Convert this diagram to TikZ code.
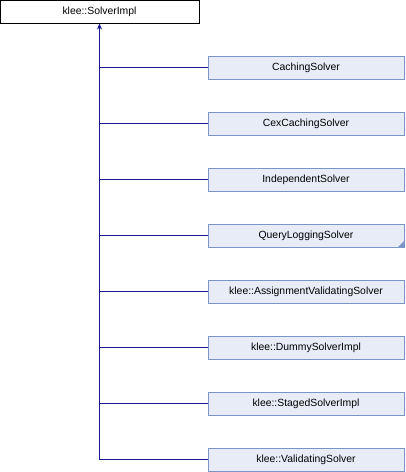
\documentclass[tikz,border=0pt]{standalone}
\usepackage{fontspec}
\setmainfont{Liberation Sans}
\usetikzlibrary{arrows.meta}
\definecolor{boxfill}{HTML}{E8ECF6}
\definecolor{boxdraw}{HTML}{7C95C8}
\definecolor{edgecol}{HTML}{1A1A8C}
\tikzset{
  basebox/.style={draw=black, fill=white, line width=1pt, minimum width=199pt, minimum height=23pt, inner sep=0pt, font=\fontsize{10.4}{12}\selectfont},
  childbox/.style={draw=boxdraw, fill=boxfill, line width=1pt, minimum width=196pt, minimum height=23pt, inner sep=0pt, font=\fontsize{10.4}{12}\selectfont},
  edge/.style={draw=edgecol, line width=1pt}
}
\begin{document}
\begin{tikzpicture}[x=1pt,y=-1pt]
\useasboundingbox (0,0) rectangle (406,472);
\node[basebox] (base) at (99.5,11.5) {klee::SolverImpl};
\node[childbox] (c1) at (306,67.5) {CachingSolver};
\node[childbox] (c2) at (306,123.5) {CexCachingSolver};
\node[childbox] (c3) at (306,179.5) {IndependentSolver};
\node[childbox] (c4) at (306,235.5) {QueryLoggingSolver};
\node[childbox] (c5) at (306,291.5) {klee::AssignmentValidatingSolver};
\node[childbox] (c6) at (306,347.5) {klee::DummySolverImpl};
\node[childbox] (c7) at (306,403.5) {klee::StagedSolverImpl};
\node[childbox] (c8) at (306,459.5) {klee::ValidatingSolver};
\fill[boxdraw] ([xshift=-0.5pt,yshift=0.5pt]c4.south east) -- ++(0,-6) -- ++(-6,6) -- cycle;
\coordinate (j) at (99.5,459.5);
\draw[edge] (c8.west) -- (j) -- (base.south);
\foreach \i in {1,...,7} {
  \draw[edge] (c\i.west) -- (base.south |- c\i.west);
}
\draw[edge, -{Stealth[length=6pt,width=5pt]}] (99.5,40) -- (base.south);
\end{tikzpicture}
\end{document}
